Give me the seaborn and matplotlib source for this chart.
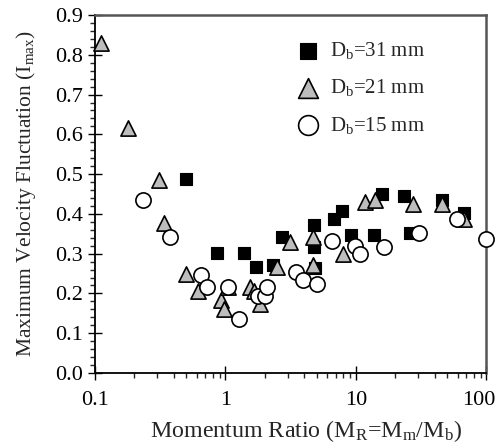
import numpy as np
import pandas as pd
import matplotlib
matplotlib.use("Agg")
import matplotlib.pyplot as plt
import matplotlib.ticker as mticker
import matplotlib.transforms as mtransforms
import seaborn as sns

# ---- data ----
sq_x = [0.496, 0.858, 1.38, 1.71, 2.33, 2.70, 4.73, 4.73, 4.88, 6.82, 7.85, 9.2, 13.7, 15.9, 23.2, 25.8, 45.9, 67.7]
sq_y = [0.487, 0.302, 0.302, 0.267, 0.271, 0.342, 0.372, 0.317, 0.263, 0.388, 0.408, 0.348, 0.346, 0.449, 0.445, 0.351, 0.436, 0.401]

tri_x = [0.112, 0.180, 0.31, 0.340, 0.499, 0.621, 0.927, 0.982, 1.04, 1.55, 1.66, 1.85, 2.48, 3.10, 4.68, 4.68, 7.9, 11.8, 14.1, 27.2, 45.7, 67.7]
tri_y = [0.829, 0.615, 0.485, 0.376, 0.248, 0.206, 0.183, 0.162, 0.216, 0.216, 0.206, 0.174, 0.267, 0.330, 0.342, 0.271, 0.298, 0.430, 0.436, 0.424, 0.424, 0.388]

cir_x = [0.232, 0.376, 0.647, 0.719, 1.04, 1.28, 1.76, 2.01, 2.07, 3.48, 3.92, 5.02, 6.54, 9.9, 10.8, 16.5, 30.3, 59.6, 100.0]
cir_y = [0.436, 0.342, 0.246, 0.216, 0.216, 0.137, 0.193, 0.193, 0.215, 0.253, 0.233, 0.225, 0.331, 0.319, 0.298, 0.317, 0.352, 0.388, 0.336]

labels = [r"D$_\mathrm{b}$=31 mm", r"D$_\mathrm{b}$=21 mm", r"D$_\mathrm{b}$=15 mm"]
x_ticks = [0.1, 1, 10, 100]
x_tick_labels = ["0.1", "1", "10", "100"]
y_ticks = [0.0, 0.1, 0.2, 0.3, 0.4, 0.5, 0.6, 0.7, 0.8, 0.9]

sns.set_style("ticks")
plt.rcParams["font.family"] = ["Liberation Serif", "DejaVu Serif"]
plt.rcParams["mathtext.fontset"] = "custom"
plt.rcParams["mathtext.rm"] = "Liberation Serif"
plt.rcParams["mathtext.it"] = "Liberation Serif:italic"

fig = plt.figure(figsize=(4.99, 4.45), dpi=100)
ax = fig.add_axes([95 / 499, 1 - 373 / 445, (486.5 - 95) / 499, (373 - 15) / 445])

df_sq = pd.DataFrame({"x": sq_x, "y": sq_y})
df_tri = pd.DataFrame({"x": tri_x, "y": tri_y})
df_cir = pd.DataFrame({"x": cir_x, "y": cir_y})

sns.scatterplot(data=df_sq, x="x", y="y", ax=ax, marker="s", s=75, color="black",
                edgecolor="black", linewidth=0.8, label=labels[0], zorder=3, clip_on=False)
sns.scatterplot(data=df_tri, x="x", y="y", ax=ax, marker="^", s=120, color="#bdbdbd",
                edgecolor="black", linewidth=1.2, label=labels[1], zorder=4, clip_on=False)
sns.scatterplot(data=df_cir, x="x", y="y", ax=ax, marker="o", s=120, color="white",
                edgecolor="black", linewidth=1.2, label=labels[2], zorder=5, clip_on=False)

ax.set_xscale("log")
ax.set_xlim(0.1, 100)
ax.set_ylim(0, 0.9)
ax.set_xticks(x_ticks)
ax.set_xticklabels(x_tick_labels)
ax.set_yticks(y_ticks)
ax.yaxis.set_major_formatter(mticker.FormatStrFormatter("%.1f"))
ax.yaxis.set_minor_locator(mticker.MultipleLocator(0.02))
ax.xaxis.set_minor_locator(mticker.LogLocator(base=10, subs=np.arange(2, 10), numticks=20))
ax.xaxis.set_minor_formatter(mticker.NullFormatter())

ax.tick_params(axis="both", which="major", direction="inout", length=10, width=1.0,
               labelsize=16, colors="black", pad=4)
ax.tick_params(axis="both", which="minor", direction="out", length=3.6, width=1.0)
ax.tick_params(axis="x", which="major", pad=8)

# shift the last x tick label left so it stays inside the figure, as in the reference
last = ax.get_xticklabels()[-1]
last.set_transform(last.get_transform() + mtransforms.ScaledTranslation(-8 / 100, 0, fig.dpi_scale_trans))

for side in ["left", "bottom"]:
    ax.spines[side].set_color("black")
    ax.spines[side].set_linewidth(1.3)
for side in ["top", "right"]:
    ax.spines[side].set_visible(True)
    ax.spines[side].set_color("#555555")
    ax.spines[side].set_linewidth(1.8)

ax.set_xlabel(r"Momentum Ratio (M$_\mathrm{R}$=M$_\mathrm{m}$/M$_\mathrm{b}$)", fontsize=17.3)
ax.xaxis.set_label_coords((306 - 95) / 391.5, -0.125)
ax.set_ylabel(r"Maximum Velocity Fluctuation (I$_\mathrm{max}$)", fontsize=15.5, labelpad=12)

leg = ax.legend(loc="upper left", bbox_to_anchor=(0.484, 0.953), frameon=False, fontsize=15,
                handletextpad=0.3, handlelength=1.5, labelspacing=0.78, markerscale=1.3,
                borderaxespad=0.0)

fig.savefig("out.png", dpi=100)
